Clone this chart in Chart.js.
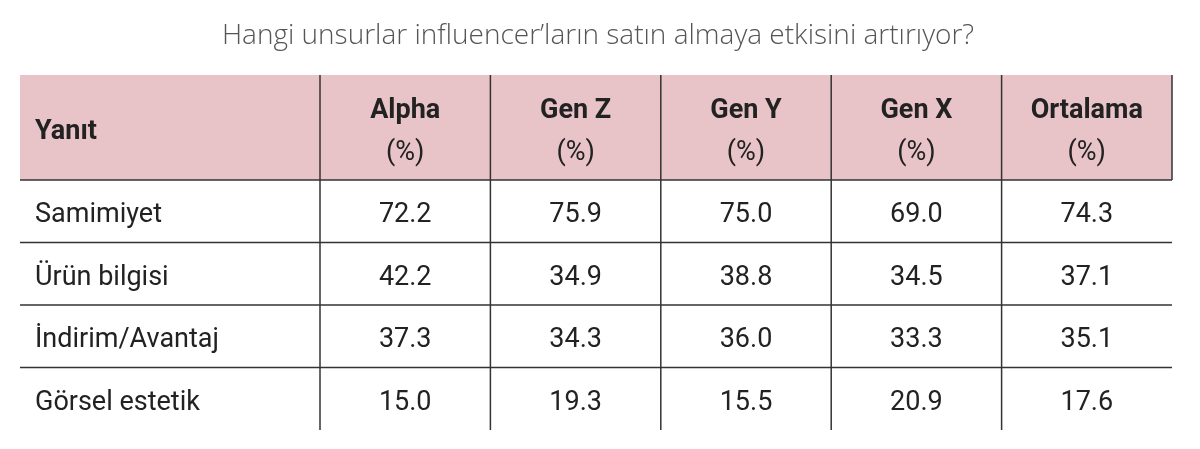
<!DOCTYPE html>
<html><head><meta charset="utf-8">
<script src="https://cdn.jsdelivr.net/npm/chart.js@4/dist/chart.umd.min.js"></script>
<style>html,body{margin:0;padding:0;background:#fff}#c{display:block}</style>
</head><body>
<div style="width:1200px;height:449px"><canvas id="c"></canvas></div>
<script>
const titleText = "Hangi unsurlar influencer’ların satın almaya etkisini artırıyor?";
const headers = [["Yanıt"],["Alpha","(%)"],["Gen Z","(%)"],["Gen Y","(%)"],["Gen X","(%)"],["Ortalama","(%)"]];
const categories = ["Samimiyet","Ürün bilgisi","İndirim/Avantaj","Görsel estetik"];
const alpha = [72.2,42.2,37.3,15.0];
const genZ = [75.9,34.9,34.3,19.3];
const genY = [75.0,38.8,36.0,15.5];
const genX = [69.0,34.5,33.3,20.9];
const ortalama = [74.3,37.1,35.1,17.6];
const series = [alpha, genZ, genY, genX, ortalama];

const tablePlugin = {
  id:'table',
  afterDraw(chart){
    const ctx = chart.ctx, a = chart.chartArea;
    const W = a.right - a.left, H = a.bottom - a.top;
    const firstW = W*300/1152, colW = (W-firstW)/5;
    const headH = H*105/355, rowH = (H-headH)/categories.length;
    const xs = [a.left, a.left+firstW]; for(let i=1;i<=5;i++) xs.push(a.left+firstW+colW*i);
    ctx.save();
    ctx.fillStyle='#555'; ctx.font='300 28px "Open Sans", sans-serif'; ctx.textAlign='center'; ctx.textBaseline='middle';
    ctx.fillText(titleText, 598, 36);
    ctx.fillStyle='#e8c3c7'; ctx.fillRect(a.left, a.top, W, headH);
    ctx.strokeStyle='#333'; ctx.lineWidth=1.5;
    for(let i=1;i<xs.length-1;i++){ ctx.beginPath(); ctx.moveTo(xs[i],a.top); ctx.lineTo(xs[i],a.bottom); ctx.stroke(); }
    ctx.beginPath(); ctx.moveTo(xs[6],a.top); ctx.lineTo(xs[6],a.top+headH); ctx.stroke();
    for(let r=0;r<categories.length;r++){ const y=a.top+headH+rowH*r; ctx.beginPath(); ctx.moveTo(a.left,y); ctx.lineTo(a.right,y); ctx.stroke(); }
    ctx.fillStyle='#222';
    headers.forEach((h,i)=>{
      const cx = i===0 ? xs[0]+15 : (xs[i]+xs[i+1])/2;
      ctx.textAlign = i===0?'left':'center';
      ctx.font='bold 27px Roboto, sans-serif';
      if(h.length===1) ctx.fillText(h[0], cx, a.top+headH/2+5);
      else { ctx.fillText(h[0], cx, a.top+headH/2-16);
             ctx.font='27px Roboto, sans-serif'; ctx.fillText(h[1], cx, a.top+headH/2+26); }
    });
    ctx.font='27px Roboto, sans-serif';
    categories.forEach((c,r)=>{
      const cy = a.top+headH+rowH*(r+0.5)+4;
      ctx.textAlign='left'; ctx.fillText(c, xs[0]+15, cy);
      ctx.textAlign='center';
      series.forEach((s,i)=> ctx.fillText(s[r].toFixed(1), (xs[i+1]+xs[i+2])/2, cy));
    });
    ctx.restore();
  }
};
new Chart(document.getElementById('c'),{
  type:'bar',
  data:{labels:categories, datasets:[{data:[], label:'t'}]},
  options:{responsive:true, maintainAspectRatio:false, animation:false,
    layout:{padding:{top:75,left:20,right:28,bottom:19}},
    plugins:{legend:{display:false},tooltip:{enabled:false}},
    scales:{x:{display:false},y:{display:false}}},
  plugins:[tablePlugin]
});
</script></body></html>
